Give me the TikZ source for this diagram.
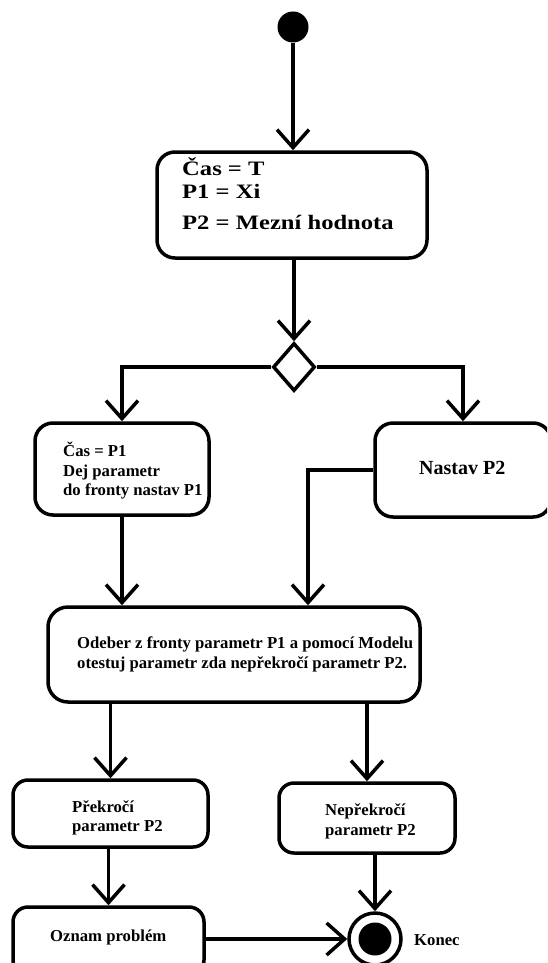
\documentclass[tikz,border=0pt]{standalone}
\usepackage{fontspec}
\setmainfont{Liberation Serif}
\newfontfamily\widefont[FakeStretch=1.2]{Liberation Serif}
\usetikzlibrary{arrows.meta,shapes.geometric}

\tikzset{
  wire/.style={line width=3.5pt},
  flow/.style={wire, -{Straight Barb[length=18pt,width=32pt]}},
  actbox/.style={draw, line width=3.5pt, rectangle, rounded corners=18pt, inner sep=0pt},
  smallbox/.style={actbox, rounded corners=15pt},
  lbl/.style={anchor=base west, inner sep=0pt, font=\bfseries\fontsize{16.7}{19.5}\selectfont},
  midlbl/.style={anchor=base west, inner sep=0pt, font=\bfseries\fontsize{20}{24}\selectfont},
  biglbl/.style={anchor=base west, inner sep=0pt, font=\widefont\bfseries\fontsize{20.5}{24}\selectfont},
}

\begin{document}
\begin{tikzpicture}[x=1pt,y=-1pt]
\useasboundingbox (0,0) rectangle (547,963);
\clip (0,0) rectangle (547,963);
\fill[white] (0,0) rectangle (547,963);

% start and end markers
\node[circle, fill=black, minimum size=31pt, inner sep=0pt] (start) at (293,27) {};
\node[circle, draw, line width=3.5pt, minimum size=52pt, inner sep=0pt] (finish) at (375,939) {};
\node[circle, fill=black, minimum size=33pt, inner sep=0pt] (finishDot) at (finish) {};
\node[lbl] (finishLbl) at (414,945) {Konec};

% decision
\node[diamond, draw, line width=3.5pt, minimum width=42pt, minimum height=48pt, inner sep=0pt] (choice) at (294,367) {};

% activities
\node[actbox, minimum width=270pt, minimum height=106pt] (init) at (292,205) {};
\node[biglbl] (initA) at (182,175) {Čas = T};
\node[biglbl] (initB) at (182,198) {P1 = Xi};
\node[biglbl] (initC) at (182,229) {P2 = Mezní hodnota};

\node[actbox, minimum width=174pt, minimum height=92pt] (queue) at (122,469) {};
\node[lbl] (queueA) at (63,456) {Čas = P1};
\node[lbl] (queueB) at (63,476) {Dej parametr};
\node[lbl] (queueC) at (63,495) {do fronty nastav P1};

\node[actbox, minimum width=176pt, minimum height=94pt] (limit) at (463,470) {};
\node[midlbl] (limitA) at (419,474) {Nastav P2};

\node[actbox, rounded corners=20pt, minimum width=372pt, minimum height=95pt] (test) at (234,654.5) {};
\node[lbl] (testA) at (77,648) {Odeber z fronty parametr P1 a pomocí Modelu};
\node[lbl] (testB) at (77,668) {otestuj parametr zda nepřekročí parametr P2.};

\node[smallbox, minimum width=195pt, minimum height=67pt] (over) at (110.5,813.5) {};
\node[lbl] (overA) at (72,812) {Překročí};
\node[lbl] (overB) at (72,831) {parametr P2};

\node[smallbox, minimum width=176pt, minimum height=70pt] (under) at (367,818) {};
\node[lbl] (underA) at (325,815) {Nepřekročí};
\node[lbl] (underB) at (325,835) {parametr P2};

\node[smallbox, minimum width=191pt, minimum height=68pt] (report) at (108.5,941) {};
\node[lbl] (reportA) at (50,941) {Oznam problém};

% connectors
\coordinate (dropR) at (308,0);
\draw[flow] (start.south) -- (start.south |- init.north);
\draw[flow] (choice.north |- init.south) -- (choice.north);
\draw[flow] (choice.west) -| (queue.north);
\draw[flow] (choice.east) -| (limit.north);
\draw[flow] (queue.south) -- (queue.south |- test.north);
\draw[flow] (limit.west) -| (dropR |- test.north);
\draw[flow] (over.north |- test.south) -- (over.north);
\draw[flow] (under.north |- test.south) -- (under.north);
\draw[flow] (report.north |- over.south) -- (report.north);
\draw[flow] (finish.north |- under.south) -- (finish.north);
\draw[flow] (finish.west -| report.east) -- (finish.west);
\end{tikzpicture}
\end{document}
